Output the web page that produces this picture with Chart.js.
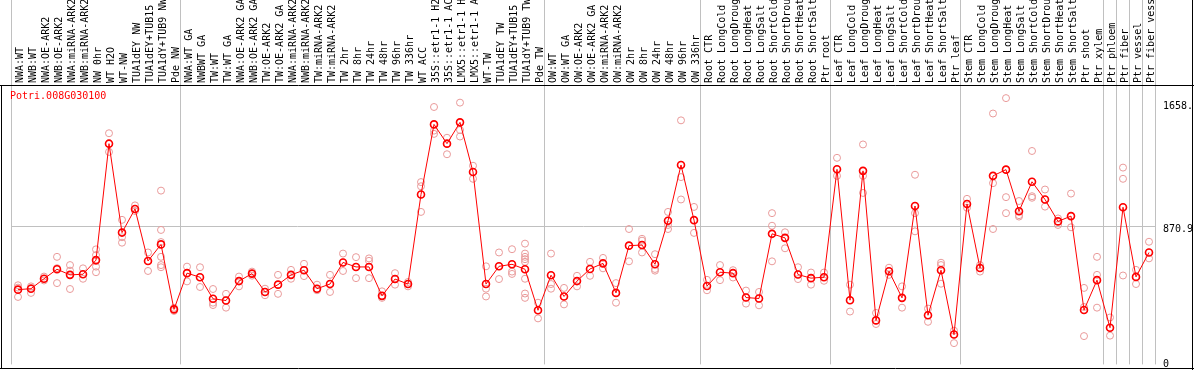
<!DOCTYPE html>
<html>
<head>
<meta charset="utf-8">
<script src="https://cdn.jsdelivr.net/npm/chart.js@4"></script>
<style>
  body { margin: 0; background: #fff; }
  #wrap { width: 1194px; height: 370px; position: relative; }
</style>
</head>
<body>
<div id="wrap"><canvas id="chart"></canvas></div>
<script>
// gene shown in the panel
const geneName = "Potri.008G030100";

// sample names (x axis, read bottom to top)
const samples = [
  "NWA:WT", "NWB:WT", "NWA:OE-ARK2", "NWB:OE-ARK2", "NWA:miRNA-ARK2", "NWB:miRNA-ARK2",
  "NW 0hr", "WT H2O", "WT-NW", "TUA1dEY NW", "TUA1dEY+TUB15", "TUA1dY+TUB9 NW", "Pde NW",
  "NWA:WT GA", "NWBWT GA", "TW:WT", "TW:WT GA", "NWA:OE-ARK2 GA", "NWB:OE-ARK2 GA",
  "TW:OE-ARK2", "TW:OE-ARK2 GA", "NWA:miRNA-ARK2", "NWB:miRNA-ARK2", "TW:miRNA-ARK2",
  "TW:miRNA-ARK2", "TW 2hr", "TW 8hr", "TW 24hr", "TW 48hr", "TW 96hr", "TW 336hr",
  "WT ACC", "35S::etr1-1 H2", "35S::etr1-1 AC", "LMX5::etr1-1 H", "LMX5::etr1-1 A",
  "WT-TW", "TUA1dEY TW", "TUA1dEY+TUB15", "TUA1dY+TUB9 TW", "Pde TW",
  "OW:WT", "OW:WT GA", "OW:OE-ARK2", "OW:OE-ARK2 GA", "OW:miRNA-ARK2", "OW:miRNA-ARK2",
  "OW 2hr", "OW 8hr", "OW 24hr", "OW 48hr", "OW 96hr", "OW 336hr",
  "Root CTR", "Root LongCold", "Root LongDroug", "Root LongHeat", "Root LongSalt",
  "Root ShortCold", "Root ShortDrou", "Root ShortHeat", "Root ShortSalt", "Ptr root",
  "Leaf CTR", "Leaf LongCold", "Leaf LongDroug", "Leaf LongHeat", "Leaf LongSalt",
  "Leaf ShortCold", "Leaf ShortDrou", "Leaf ShortHeat", "Leaf ShortSalt", "Ptr leaf",
  "Stem CTR", "Stem LongCold", "Stem LongDroug", "Stem LongHeat", "Stem LongSalt",
  "Stem ShortCold", "Stem ShortDrou", "Stem ShortHeat", "Stem ShortSalt",
  "Ptr shoot", "Ptr xylem", "Ptr phloem", "Ptr fiber", "Ptr vessel", "Ptr fiber vess"
];

// mean expression per sample
const meanExpr = [
  462, 468, 532, 593, 557, 561, 652, 1401, 829, 981, 646, 753, 335,
  568, 542, 403, 392, 517, 565, 447, 494, 557, 587, 468, 498, 637, 608, 608, 422, 530, 498,
  1074, 1525, 1401, 1538, 1219, 498, 612, 625, 593, 329,
  555, 418, 517, 595, 631, 441, 745, 749, 625, 905, 1264, 909,
  485, 574, 568, 411, 405, 821, 795, 559, 536, 542,
  1236, 394, 1226, 264, 580, 409, 1000, 297, 587, 173,
  1013, 601, 1194, 1234, 966, 1156, 1042, 901, 935,
  331, 523, 217, 992, 544, 701
];

// individual replicate values per sample
const replicates = [
  [490, 475, 415], [483, 473, 441], [546, 532, 521], [673, 600, 504], [620, 584, 557, 466],
  [599, 561, 532], [721, 684, 646, 610, 574], [1468, 1401, 1348], [911, 829, 799, 764],
  [1004, 981, 968], [701, 646, 582], [1099, 846, 768, 673, 620, 606], [345, 335, 325],
  [610, 568, 515], [606, 542, 479], [466, 403, 378, 363], [435, 392, 346], [546, 517, 483],
  [578, 565, 552], [468, 447, 426], [557, 494, 435], [589, 557, 532], [628, 587, 549],
  [494, 468, 458], [557, 498, 447], [694, 637, 582], [671, 608, 536], [663, 647, 608, 536],
  [451, 422, 409], [568, 530, 494], [511, 498, 483],
  [1154, 1127, 1074, 962], [1637, 1525, 1485, 1464], [1439, 1401, 1333],
  [1665, 1538, 1489, 1447], [1259, 1219, 1175], [612, 498, 468, 418], [701, 612, 530],
  [722, 625, 578, 563], [758, 694, 673, 658, 641, 593, 532, 437, 409], [378, 329, 277],
  [694, 555, 498, 468], [473, 418, 367], [551, 517, 483], [641, 595, 551], [666, 631, 599],
  [504, 441, 378], [852, 745, 644], [789, 777, 749, 701], [690, 625, 595, 584],
  [962, 905, 878, 852], [1551, 1264, 1186, 1042], [994, 909, 827],
  [525, 485, 458], [620, 574, 523], [587, 568, 540], [456, 411, 372], [447, 405, 361],
  [954, 873, 821, 644], [831, 795, 728], [606, 559, 530], [572, 536, 494], [572, 542, 519],
  [1310, 1236, 1194], [494, 394, 321], [1396, 1226, 1194, 1084], [312, 264, 241],
  [603, 580, 557], [483, 409, 346], [1201, 1000, 954, 837], [340, 297, 255],
  [635, 620, 587, 500], [198, 173, 118],
  [1046, 1013, 989], [620, 601, 578], [1595, 1194, 1147, 852], [1694, 1234, 1057, 954],
  [1032, 966, 941, 932], [1354, 1156, 1063, 1053], [1106, 1042, 996], [920, 901, 878],
  [1080, 935, 863], [473, 350, 331, 163], [673, 557, 523, 346], [283, 217, 166],
  [1247, 1175, 992, 553], [589, 544, 498], [770, 701, 663]
];

// right-hand axis
const yTickValues = [0, 870.9, 1658];
const yTickLabels = ["0", "870.9", "1658."];

// vertical separators sit before these sample indexes (and after the last one)
const groupBreaks = [0, 13, 41, 53, 63, 73, 84, 85, 86, 87];

const monoFont = { family: "DejaVu Sans Mono", size: 10 };
const gridGray = "#c0c0c0";

// one point dataset per replicate slot so each value stays on its own category
const maxReps = Math.max(...replicates.map(r => r.length));
const repDatasets = [];
for (let k = 0; k < maxReps; k++) {
  repDatasets.push({
    label: "rep" + (k + 1),
    data: replicates.map(r => (k < r.length ? r[k] : null)),
    showLine: false,
    pointRadius: 3.5,
    pointBorderWidth: 1,
    pointBorderColor: "#e99a9a",
    pointBackgroundColor: "rgba(0,0,0,0)"
  });
}

// frame lines and gene name
const framePlugin = {
  id: "frame",
  afterDraw(chart) {
    const { ctx, chartArea, width, height } = chart;
    ctx.save();
    ctx.strokeStyle = "#000";
    ctx.lineWidth = 1;
    ctx.beginPath();
    ctx.moveTo(0, chartArea.top - 0.5);
    ctx.lineTo(width, chartArea.top - 0.5);
    ctx.moveTo(1.5, chartArea.top);
    ctx.lineTo(1.5, height - 1);
    ctx.moveTo(0, height - 1.5);
    ctx.lineTo(width, height - 1.5);
    ctx.moveTo(width - 1.5, 0);
    ctx.lineTo(width - 1.5, height);
    ctx.stroke();
    ctx.fillStyle = "#ff0000";
    ctx.font = "10px 'DejaVu Sans Mono'";
    ctx.textBaseline = "middle";
    ctx.textAlign = "left";
    ctx.fillText(geneName, chartArea.left - 1.5, chartArea.top + 10);
    ctx.restore();
  }
};

new Chart(document.getElementById("chart"), {
  type: "line",
  data: {
    labels: samples,
    datasets: [
      {
        label: "mean",
        data: meanExpr,
        borderColor: "#ff0000",
        borderWidth: 1,
        tension: 0,
        pointRadius: 3.5,
        pointBorderWidth: 1.6,
        pointBorderColor: "#ff0000",
        pointBackgroundColor: "rgba(0,0,0,0)"
      },
      ...repDatasets
    ]
  },
  options: {
    responsive: true,
    maintainAspectRatio: false,
    animation: false,
    layout: { padding: { left: 11.5, right: 0, top: 0, bottom: 1 } },
    plugins: {
      legend: { display: false },
      tooltip: { enabled: false }
    },
    scales: {
      x: {
        position: "top",
        offset: true,
        border: { display: false },
        grid: {
          offset: true,
          drawTicks: true,
          tickLength: 86,
          lineWidth: 1,
          color: c => (c.index === undefined || groupBreaks.includes(c.index)) ? gridGray : "rgba(0,0,0,0)"
        },
        ticks: {
          autoSkip: false,
          minRotation: 90,
          maxRotation: 90,
          padding: -83,
          labelOffset: 14,
          color: "#000",
          font: monoFont
        },
        afterFit: s => { s.height = 86; }
      },
      y: {
        position: "right",
        min: -19,
        max: 1772,
        border: { display: false },
        grid: {
          drawTicks: false,
          color: c => (c.tick && c.tick.value === 870.9) ? gridGray : "rgba(0,0,0,0)"
        },
        afterBuildTicks: s => { s.ticks = yTickValues.map(v => ({ value: v })); },
        ticks: {
          callback: (v, i) => yTickLabels[i],
          padding: 7.5,
          labelOffset: 3,
          color: "#000",
          font: monoFont
        },
        // fixed width; no extra space above/below the plot for the labels
        afterFit: s => { s.width = 38.5; s.paddingTop = 0; s.paddingBottom = 0; }
      }
    }
  },
  plugins: [framePlugin]
});
</script>
</body>
</html>
